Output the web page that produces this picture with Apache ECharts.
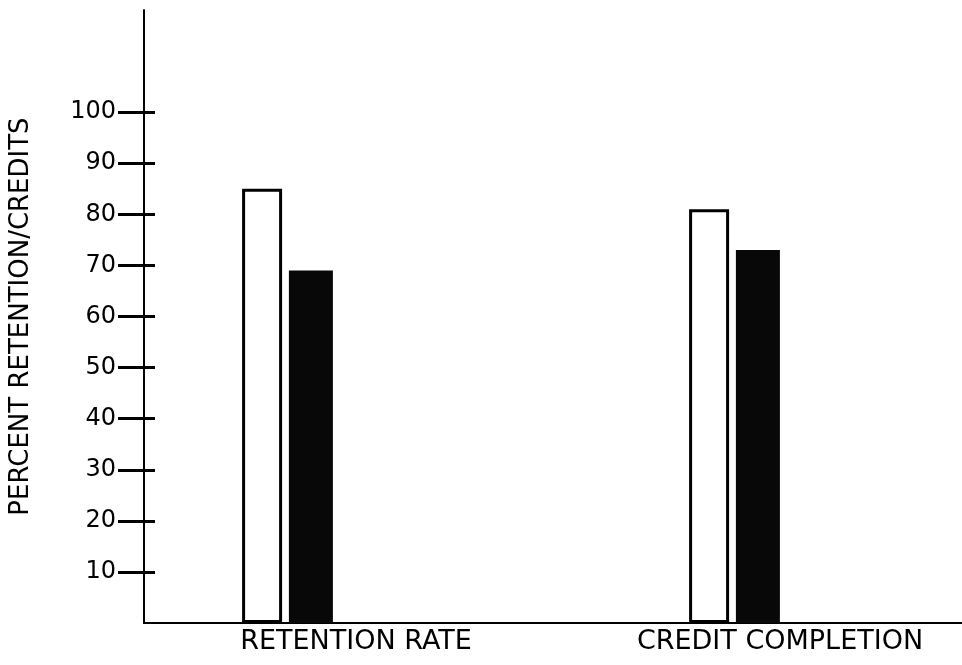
<!DOCTYPE html>
<html>
<head>
<meta charset="utf-8">
<script src="https://cdn.jsdelivr.net/npm/echarts@6/dist/echarts.min.js"></script>
<style>
html, body { margin: 0; padding: 0; background: #fff; }
#chart { width: 962px; height: 665px; }
</style>
</head>
<body>
<div id="chart"></div>
<script>
// values
var categories = ['RETENTION RATE', 'CREDIT COMPLETION'];
var whiteBars = [85, 81];
var blackBars = [69, 73];
var yTicks = [10, 20, 30, 40, 50, 60, 70, 80, 90, 100];

var font = 'DejaVu Sans';
var myChart = echarts.init(document.getElementById('chart'));

var option = {
	backgroundColor: '#fff',
	animation: false,
	grid: [
		// axes grid
		{ left: 144, top: 10, bottom: 42, width: 848, outerBoundsMode: 'none', containLabel: false },
		// bars grid, same vertical scale
		{ left: 64, top: 10, bottom: 42, width: 894, outerBoundsMode: 'none', containLabel: false }
	],
	xAxis: [
		{
			type: 'category', gridIndex: 0, data: categories,
			axisLine: { lineStyle: { color: '#000', width: 2 } },
			axisTick: { show: false },
			axisLabel: { color: '#000', fontFamily: font, fontSize: 27, margin: 5 }
		},
		{
			type: 'category', gridIndex: 1, data: categories,
			axisLine: { show: false }, axisTick: { show: false }, axisLabel: { show: false }
		}
	],
	yAxis: [
		{
			type: 'value', gridIndex: 0, min: 0, max: 120, interval: 10,
			name: 'PERCENT RETENTION/CREDITS',
			nameLocation: 'middle', nameGap: 110, nameRotate: 90,
			nameTextStyle: { color: '#000', fontFamily: font, fontSize: 26 },
			axisLine: { show: true, lineStyle: { color: '#000', width: 2 } },
			axisTick: { show: true, length: 26, customValues: yTicks, lineStyle: { color: '#000', width: 3 } },
			axisLabel: { color: '#000', fontFamily: font, fontSize: 24, margin: 28, customValues: yTicks },
			splitLine: { show: false }
		},
		{
			// inner half of the crossing ticks
			type: 'value', gridIndex: 0, min: 0, max: 120, interval: 10, position: 'left',
			axisLine: { show: false },
			axisTick: { show: true, inside: true, length: 11, customValues: yTicks, lineStyle: { color: '#000', width: 3 } },
			axisLabel: { show: false },
			splitLine: { show: false }
		},
		{
			type: 'value', gridIndex: 1, min: 0, max: 120, interval: 10,
			axisLine: { show: false }, axisTick: { show: false }, axisLabel: { show: false },
			splitLine: { show: false }
		}
	],
	series: [
		{
			type: 'bar', xAxisIndex: 1, yAxisIndex: 2, data: whiteBars,
			barWidth: 40, barGap: '17%',
			itemStyle: { color: '#fff', borderColor: '#000', borderWidth: 3 }
		},
		{
			type: 'bar', xAxisIndex: 1, yAxisIndex: 2, data: blackBars,
			barWidth: 44,
			itemStyle: { color: '#080808' }
		}
	]
};

myChart.setOption(option);
</script>
</body>
</html>
